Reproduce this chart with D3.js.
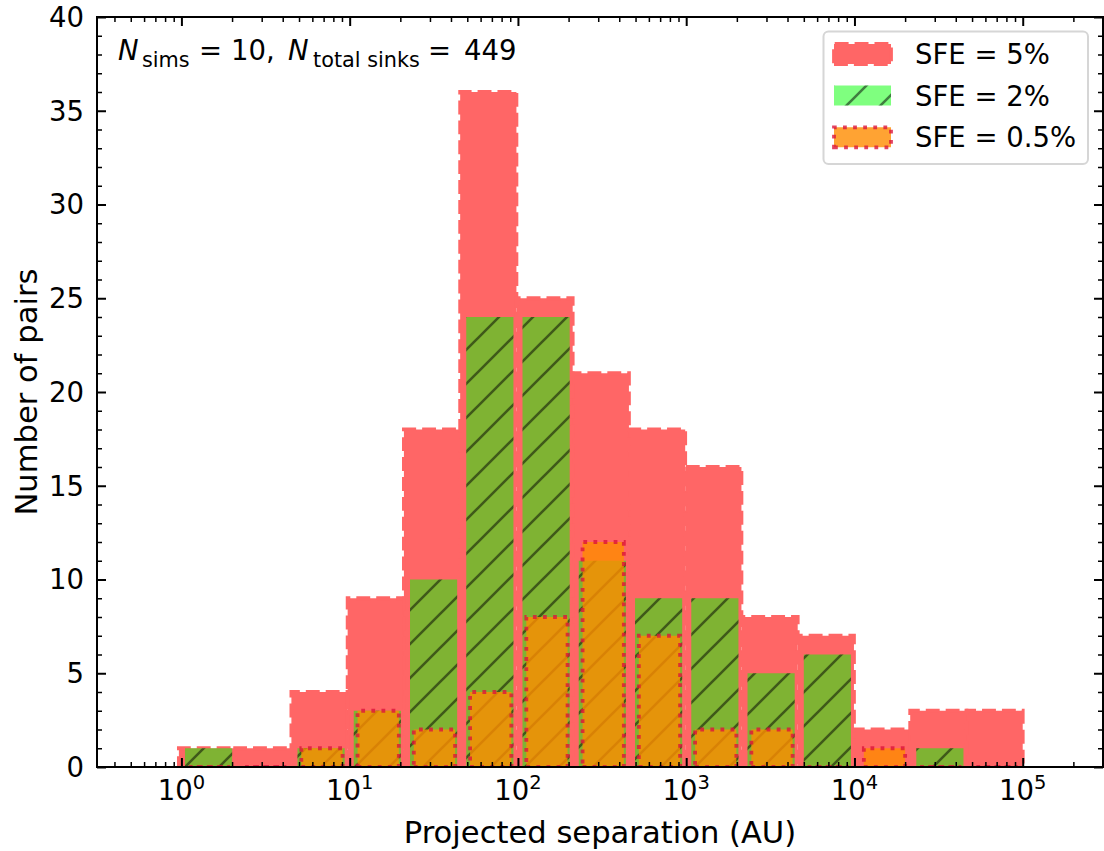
<!DOCTYPE html>
<html>
<head>
<meta charset="utf-8">
<script src="https://cdn.jsdelivr.net/npm/d3@7"></script>
<style>
  body { margin: 0; background: white; }
  text { font-family: "DejaVu Sans", sans-serif; fill: black; }
</style>
</head>
<body>
<div id="histPlot"></div>
<script>
var fig = {
  width: 1104,
  height: 851,
  top: 17,
  right: 1,
  bottom: 84,
  left: 97,
}

// log10 of first and last bin edge, number of bins
var binLog = [-0.015, 5];
var nBins = 15;

// counts of pairs in each bin
var countsSFE5 = [1, 1, 4, 9, 18, 36, 25, 21, 18, 16, 8, 7, 2, 3, 3];
var countsSFE2 = [1, 0, 1, 3, 10, 24, 24, 11, 9, 9, 5, 6, 0, 1, 0];
var countsSFE05 = [0, 0, 1, 3, 2, 4, 8, 12, 7, 2, 2, 0, 1, 0, 0];
var seriesLabels = ["SFE = 5%", "SFE = 2%", "SFE = 0.5%"];

var xLimits = [0.315, 3e5];
var yLimits = [0, 40];
var xDecades = [0, 1, 2, 3, 4, 5];
var yTicks = [0, 5, 10, 15, 20, 25, 30, 35, 40];

function drawHist() {
  let svg = d3.select("#histPlot")
    .append("svg")
    .attr("width", fig.width)
    .attr("height", fig.height);

  let x = d3.scaleLog()
    .domain(xLimits)
    .range([fig.left, fig.width - fig.right]);
  let y = d3.scaleLinear()
    .domain(yLimits)
    .range([fig.height - fig.bottom, fig.top]);

  let edges = d3.range(nBins + 1).map((i) => Math.pow(10, binLog[0] + i * (binLog[1] - binLog[0]) / nBins));

  let defs = svg.append("defs");
  defs.append("clipPath").attr("id", "plotClip")
    .append("rect")
    .attr("x", fig.left).attr("y", fig.top)
    .attr("width", fig.width - fig.left - fig.right)
    .attr("height", fig.height - fig.top - fig.bottom);

  /* "/" hatch */
  let hatch = defs.append("pattern")
    .attr("id", "hatch")
    .attr("patternUnits", "userSpaceOnUse")
    .attr("width", 34).attr("height", 34);
  hatch.append("path")
    .attr("d", "M0,34L34,0M-4,4L4,-4M30,38L38,30")
    .style("stroke", "black")
    .style("stroke-opacity", 0.5)
    .style("stroke-width", 2.6);

  // bar path, starting bottom-left like matplotlib rectangles
  function barPath(i, count, rwidth) {
    let lo = edges[i], hi = edges[i + 1];
    let c = (lo + hi) / 2, w = rwidth * (hi - lo);
    let x0 = x(c - w / 2), x1 = x(c + w / 2);
    return `M${x0},${y(0)}H${x1}V${y(count)}H${x0}Z`;
  }

  let bars = svg.append("g").attr("clip-path", "url(#plotClip)");

  /* SFE = 5% */
  bars.append("g")
    .selectAll("path")
    .data(countsSFE5)
    .enter()
    .append("path")
    .attr("d", (d, i) => barPath(i, d, 1))
    .style("fill", "#ff6666")
    .style("stroke", "#ff6666")
    .style("stroke-width", 3.8)
    .style("stroke-dasharray", "13.9,6");

  /* SFE = 2% */
  let g2 = bars.append("g");
  g2.selectAll("path.face")
    .data(countsSFE2)
    .enter()
    .append("path")
    .attr("class", "face")
    .attr("d", (d, i) => barPath(i, d, 0.85))
    .style("fill", "rgb(0,255,0)")
    .style("fill-opacity", 0.5);
  g2.selectAll("path.hatch")
    .data(countsSFE2)
    .enter()
    .append("path")
    .attr("class", "hatch")
    .attr("d", (d, i) => barPath(i, d, 0.85))
    .style("fill", "url(#hatch)");

  /* SFE = 0.5% */
  bars.append("g")
    .selectAll("path")
    .data(countsSFE05)
    .enter()
    .append("path")
    .attr("d", (d, i) => barPath(i, d, 0.75))
    .style("fill", "darkorange")
    .style("fill-opacity", 0.8)
    .style("stroke", "crimson")
    .style("stroke-opacity", 0.8)
    .style("stroke-width", 3.8)
    .style("stroke-dasharray", "3.8,6.3");

  /* ticks, pointing in, on all four sides */
  let minorX = [];
  for (let p = -1; p <= 5; p++) {
    for (let k = 2; k <= 9; k++) {
      let v = k * Math.pow(10, p);
      if (v > xLimits[0] && v < xLimits[1]) minorX.push(v);
    }
  }
  let majorX = xDecades.map((p) => Math.pow(10, p));
  let minorY = d3.range(1, 40).filter((v) => v % 5 !== 0);

  let axes = [
    [d3.axisBottom(x).tickValues(majorX), `translate(0, ${y(0)})`, 9, 2],
    [d3.axisBottom(x).tickValues(minorX), `translate(0, ${y(0)})`, 5, 1.5],
    [d3.axisTop(x).tickValues(majorX), `translate(0, ${fig.top})`, 9, 2],
    [d3.axisTop(x).tickValues(minorX), `translate(0, ${fig.top})`, 5, 1.5],
    [d3.axisLeft(y).tickValues(yTicks), `translate(${fig.left}, 0)`, 9, 2],
    [d3.axisLeft(y).tickValues(minorY), `translate(${fig.left}, 0)`, 5, 1.5],
    [d3.axisRight(y).tickValues(yTicks), `translate(${fig.width - fig.right}, 0)`, 9, 2],
    [d3.axisRight(y).tickValues(minorY), `translate(${fig.width - fig.right}, 0)`, 5, 1.5],
  ];
  axes.forEach((a) => {
    let g = svg.append("g")
      .attr("transform", a[1])
      .call(a[0].tickSizeInner(-a[2]).tickSizeOuter(0).tickFormat(""));
    g.select(".domain").remove();
    g.selectAll("line").style("stroke", "black").style("stroke-width", a[3]);
  });

  svg.append("rect")
    .attr("x", fig.left).attr("y", fig.top)
    .attr("width", fig.width - fig.left - fig.right)
    .attr("height", fig.height - fig.top - fig.bottom)
    .style("fill", "none")
    .style("stroke", "black")
    .style("stroke-width", 2);

  /* tick labels */
  xDecades.forEach((p) => {
    let t = svg.append("text")
      .attr("x", x(Math.pow(10, p)))
      .attr("y", 800)
      .attr("text-anchor", "middle")
      .style("font-size", "27.5px");
    t.append("tspan").text("10");
    t.append("tspan").attr("dy", -11).style("font-size", "19.5px").text(p);
  });
  yTicks.forEach((v) => {
    svg.append("text")
      .attr("x", 84)
      .attr("y", y(v))
      .attr("dy", "0.36em")
      .attr("text-anchor", "end")
      .style("font-size", "27.5px")
      .text(v);
  });

  /* axis labels */
  svg.append("text")
    .attr("x", (fig.left + fig.width - fig.right) / 2)
    .attr("y", 843)
    .attr("text-anchor", "middle")
    .style("font-size", "30.6px")
    .text("Projected separation (AU)");
  svg.append("text")
    .attr("transform", `translate(37, ${(fig.top + y(0)) / 2}) rotate(-90)`)
    .attr("text-anchor", "middle")
    .style("font-size", "30.6px")
    .text("Number of pairs");

  /* annotation, laid out like mathtext */
  let note = svg.append("text")
    .attr("y", 59.5)
    .style("font-size", "27.5px");
  note.append("tspan").attr("x", 118).style("font-style", "italic").text("N");
  note.append("tspan").attr("x", 142).attr("dy", 7).style("font-size", "20.8px").text("sims");
  note.append("tspan").attr("x", 199).attr("dy", -7).text("=");
  note.append("tspan").attr("x", 231).text("10,");
  note.append("tspan").attr("x", 288).style("font-style", "italic").text("N");
  note.append("tspan").attr("x", 313).attr("dy", 7).style("font-size", "20.8px").text("total sinks");
  note.append("tspan").attr("x", 428).attr("dy", -7).text("=");
  note.append("tspan").attr("x", 464).text("449");

  /* legend */
  let leg = svg.append("g");
  leg.append("rect")
    .attr("x", 823.5).attr("y", 31.5)
    .attr("width", 264.5).attr("height", 132.5)
    .attr("rx", 5)
    .style("fill", "white")
    .style("fill-opacity", 0.8)
    .style("stroke", "#d6d6d6")
    .style("stroke-width", 2);

  let rowY = [54, 95.5, 137.3];
  let hx = 834, hw = 57, hh = 20;
  leg.append("path")
    .attr("d", `M${hx},${rowY[0] + hh / 2}h${hw}v${-hh}h${-hw}Z`)
    .style("fill", "#ff6666")
    .style("stroke", "#ff6666")
    .style("stroke-width", 3.8)
    .style("stroke-dasharray", "13.9,6");
  leg.append("rect")
    .attr("x", hx).attr("y", rowY[1] - hh / 2)
    .attr("width", hw).attr("height", hh)
    .style("fill", "rgb(0,255,0)")
    .style("fill-opacity", 0.5);
  leg.append("rect")
    .attr("x", hx).attr("y", rowY[1] - hh / 2)
    .attr("width", hw).attr("height", hh)
    .style("fill", "url(#hatch)");
  leg.append("path")
    .attr("d", `M${hx},${rowY[2] + hh / 2}h${hw}v${-hh}h${-hw}Z`)
    .style("fill", "darkorange")
    .style("fill-opacity", 0.8)
    .style("stroke", "crimson")
    .style("stroke-opacity", 0.8)
    .style("stroke-width", 3.8)
    .style("stroke-dasharray", "3.8,6.3");

  seriesLabels.forEach((s, i) => {
    leg.append("text")
      .attr("x", 915)
      .attr("y", rowY[i] + 10)
      .style("font-size", "27.5px")
      .text(s);
  });
}

drawHist();
</script>
</body>
</html>
